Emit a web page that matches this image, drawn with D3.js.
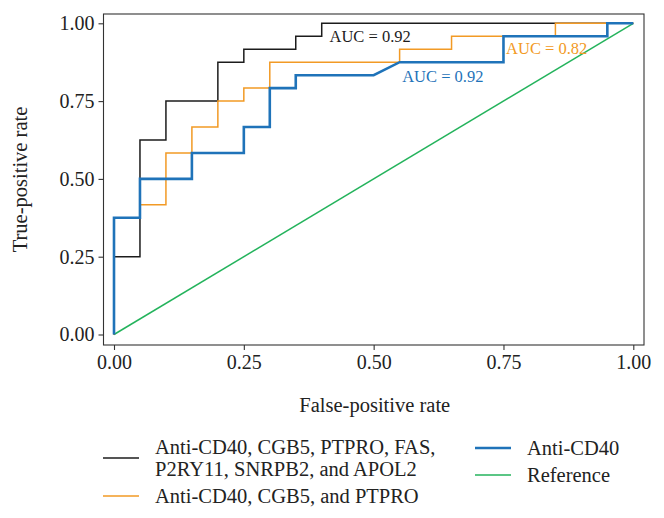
<!DOCTYPE html>
<html>
<head>
<meta charset="utf-8">
<script src="https://cdnjs.cloudflare.com/ajax/libs/d3/7.8.5/d3.min.js"></script>
<style>
  body { margin: 0; background: #fff; }
  text { font-family: "Liberation Serif", "DejaVu Serif", serif; fill: #222; }
</style>
</head>
<body>
<svg id="chart" width="664" height="518"></svg>
<script>
// ROC curve points (false-positive rate, true-positive rate)
const fprPanel = [0, 0, 0.05, 0.05, 0.10, 0.10, 0.20, 0.20, 0.25, 0.25, 0.35, 0.35, 0.40, 0.40, 1.00];
const tprPanel = [0, 0.25, 0.25, 0.625, 0.625, 0.75, 0.75, 0.875, 0.875, 0.9167, 0.9167, 0.9583, 0.9583, 1, 1];

const fprThree = [0, 0, 0.05, 0.05, 0.10, 0.10, 0.15, 0.15, 0.20, 0.20, 0.25, 0.25, 0.30, 0.30, 0.55, 0.55, 0.65, 0.65, 0.85, 0.85, 1.00];
const tprThree = [0, 0.375, 0.375, 0.4167, 0.4167, 0.5833, 0.5833, 0.6667, 0.6667, 0.75, 0.75, 0.7917, 0.7917, 0.875, 0.875, 0.9167, 0.9167, 0.9583, 0.9583, 1, 1];

const fprCD40 = [0, 0, 0.05, 0.05, 0.15, 0.15, 0.25, 0.25, 0.30, 0.30, 0.35, 0.35, 0.50, 0.55, 0.75, 0.75, 0.95, 0.95, 1.00];
const tprCD40 = [0, 0.375, 0.375, 0.5, 0.5, 0.5833, 0.5833, 0.6667, 0.6667, 0.7917, 0.7917, 0.8333, 0.8333, 0.875, 0.875, 0.9583, 0.9583, 1, 1];

const fprRef = [0, 1];
const tprRef = [0, 1];

const seriesNames = ["Anti-CD40, CGB5, PTPRO, FAS, P2RY11, SNRPB2, and APOL2", "Anti-CD40, CGB5, and PTPRO", "Anti-CD40", "Reference"];
const seriesColors = ["#1c1c1c", "#f29a25", "#1f73b9", "#24b35c"];
const seriesWidths = [1.5, 1.5, 2.6, 1.5];

const aucLabels = ["AUC = 0.92", "AUC = 0.82", "AUC = 0.92"];

const xTicks = [0, 0.25, 0.5, 0.75, 1];
const yTicks = [0, 0.25, 0.5, 0.75, 1];

const svg = d3.select("#chart");

// panel box and data range
const panel = {left: 103.5, top: 14, right: 644, bottom: 345};
const x = d3.scaleLinear().domain([0, 1]).range([114, 633.3]);
const y = d3.scaleLinear().domain([0, 1]).range([334.5, 23.3]);

// frame
svg.append("rect")
  .attr("x", panel.left).attr("y", panel.top)
  .attr("width", panel.right - panel.left).attr("height", panel.bottom - panel.top)
  .attr("fill", "none").attr("stroke", "#333").attr("stroke-width", 1.1);

// axes
const xAxis = d3.axisBottom(x).tickValues(xTicks).tickSize(5).tickPadding(5)
  .tickFormat(d3.format(".2f"));
const yAxis = d3.axisLeft(y).tickValues(yTicks).tickSize(5).tickPadding(4)
  .tickFormat(d3.format(".2f"));

const gx = svg.append("g").attr("transform", "translate(0," + panel.bottom + ")").call(xAxis);
const gy = svg.append("g").attr("transform", "translate(" + panel.left + ",0)").call(yAxis);
[gx, gy].forEach(function(g) {
  g.select(".domain").remove();
  g.selectAll(".tick line").attr("stroke", "#333").attr("stroke-width", 1.1);
  g.selectAll(".tick text")
    .style("font-family", "'Liberation Serif', serif")
    .style("font-size", "20px").attr("fill", "#222");
});

// axis titles
svg.append("text")
  .attr("x", (panel.left + panel.right) / 2 + 1).attr("y", 412)
  .attr("text-anchor", "middle").style("font-size", "20.5px")
  .text("False-positive rate");
svg.append("text")
  .attr("transform", "translate(27," + ((panel.top + panel.bottom) / 2) + ") rotate(-90)")
  .attr("text-anchor", "middle").style("font-size", "20.5px")
  .text("True-positive rate");

// curves
const curveData = [
  [fprPanel, tprPanel],
  [fprThree, tprThree],
  [fprCD40, tprCD40],
  [fprRef, tprRef]
];
const line = d3.line()
  .x(function(d) { return x(d[0]); })
  .y(function(d) { return y(d[1]); });

// reference first, then the ROC curves with Anti-CD40 on top
[3, 0, 1, 2].forEach(function(i) {
  const pts = curveData[i][0].map(function(v, j) { return [v, curveData[i][1][j]]; });
  svg.append("path")
    .datum(pts)
    .attr("d", line)
    .attr("fill", "none")
    .attr("stroke", seriesColors[i])
    .attr("stroke-width", seriesWidths[i])
    .attr("stroke-linejoin", "miter");
});

// AUC annotations
const aucPos = [[0.415, 0.96], [0.755, 0.92], [0.555, 0.83]];
aucLabels.forEach(function(t, i) {
  svg.append("text")
    .attr("x", x(aucPos[i][0])).attr("y", y(aucPos[i][1]))
    .attr("dy", "0.35em")
    .style("font-size", "16.5px")
    .style("fill", seriesColors[i])
    .text(t);
});

// legend
const legend = svg.append("g");
const legendItems = [
  {i: 0, kx: 103, ky: 458, lines: ["Anti-CD40, CGB5, PTPRO, FAS,", "P2RY11, SNRPB2, and APOL2"]},
  {i: 1, kx: 103, ky: 496, lines: ["Anti-CD40, CGB5, and PTPRO"]},
  {i: 2, kx: 475, ky: 448, lines: ["Anti-CD40"]},
  {i: 3, kx: 475, ky: 475, lines: ["Reference"]}
];
legendItems.forEach(function(item) {
  legend.append("line")
    .attr("x1", item.kx).attr("x2", item.kx + 36)
    .attr("y1", item.ky).attr("y2", item.ky)
    .attr("stroke", seriesColors[item.i])
    .attr("stroke-width", item.i === 2 ? 2.6 : 1.6);
  const n = item.lines.length;
  item.lines.forEach(function(s, k) {
    legend.append("text")
      .attr("x", item.kx + 52)
      .attr("y", item.ky + (k - (n - 1) / 2) * 21.5)
      .attr("dy", "0.33em")
      .style("font-size", "20.5px")
      .text(s);
  });
});
</script>
</body>
</html>
